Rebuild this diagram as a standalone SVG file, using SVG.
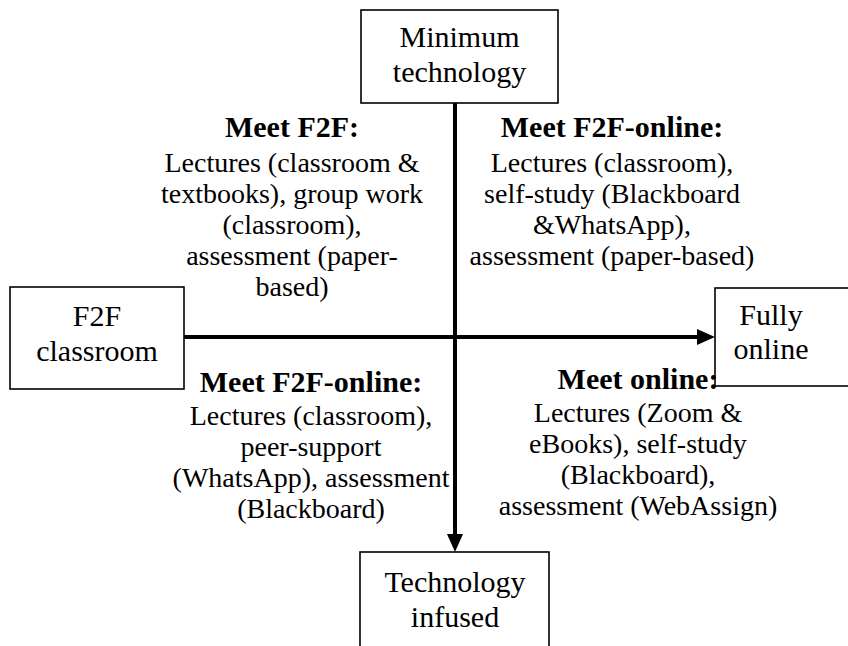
<svg xmlns="http://www.w3.org/2000/svg" width="848" height="646" viewBox="0 0 848 646">
<style>
.box{fill:#fff;stroke:#000;stroke-width:1.6}
.t{font-family:"Liberation Serif","Times New Roman",serif;font-size:28px;fill:#000;text-anchor:middle}
.bt{font-family:"Liberation Serif","Times New Roman",serif;font-size:30px;fill:#000;text-anchor:middle}
.h{font-family:"Liberation Serif","Times New Roman",serif;font-size:30px;font-weight:bold;fill:#000;text-anchor:middle}
.ax{stroke:#000;stroke-width:4;fill:none}
</style>
<rect width="848" height="646" fill="#fff"/>
<g id="connectors">
<line class="ax" x1="455" y1="103" x2="455" y2="536"/>
<polygon points="447,534 463,534 455,552" fill="#000"/>
<line class="ax" x1="184" y1="337" x2="699" y2="337"/>
<polygon points="697,329 697,345 715,337" fill="#000"/>
</g>
<g id="node-top">
<rect class="box" x="361" y="10" width="197" height="93"/>
<text class="bt" x="459.5" y="47">Minimum</text>
<text class="bt" x="459.5" y="82">technology</text>
</g>
<g id="node-left">
<rect class="box" x="10" y="287" width="174" height="102"/>
<text class="bt" x="97" y="326">F2F</text>
<text class="bt" x="97" y="361">classroom</text>
</g>
<g id="node-right">
<rect class="box" x="715" y="288" width="150" height="98"/>
<text class="bt" x="771" y="325">Fully</text>
<text class="bt" x="771" y="359">online</text>
</g>
<g id="node-bottom">
<rect class="box" x="360" y="552" width="189" height="110"/>
<text class="bt" x="455" y="592">Technology</text>
<text class="bt" x="455" y="627">infused</text>
</g>
<g id="q-top-left">
<text class="h" x="292" y="137">Meet F2F:</text>
<text class="t" x="292" y="172">Lectures (classroom &amp;</text>
<text class="t" x="292" y="203">textbooks), group work</text>
<text class="t" x="292" y="234">(classroom),</text>
<text class="t" x="292" y="265">assessment (paper-</text>
<text class="t" x="292" y="296">based)</text>
</g>
<g id="q-top-right">
<text class="h" x="612" y="137">Meet F2F-online:</text>
<text class="t" x="612" y="172">Lectures (classroom),</text>
<text class="t" x="612" y="203">self-study (Blackboard</text>
<text class="t" x="612" y="234">&amp;WhatsApp),</text>
<text class="t" x="612" y="265">assessment (paper-based)</text>
</g>
<g id="q-bottom-left">
<text class="h" x="311" y="392">Meet F2F-online:</text>
<text class="t" x="311" y="425">Lectures (classroom),</text>
<text class="t" x="311" y="456">peer-support</text>
<text class="t" x="311" y="487">(WhatsApp), assessment</text>
<text class="t" x="311" y="518">(Blackboard)</text>
</g>
<g id="q-bottom-right">
<text class="h" x="638" y="389">Meet online:</text>
<text class="t" x="638" y="422">Lectures (Zoom &amp;</text>
<text class="t" x="638" y="453">eBooks), self-study</text>
<text class="t" x="638" y="484">(Blackboard),</text>
<text class="t" x="638" y="515">assessment (WebAssign)</text>
</g>
</svg>
